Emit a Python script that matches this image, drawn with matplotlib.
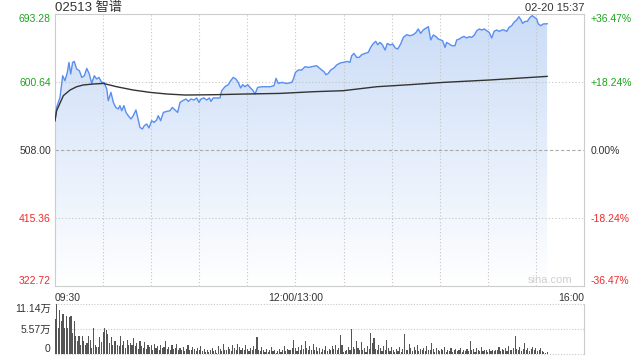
import numpy as np
import matplotlib
matplotlib.use("Agg")
import matplotlib.pyplot as plt
from matplotlib.colors import LinearSegmentedColormap

plt.rcParams['font.family'] = ['Liberation Sans', 'Noto Sans CJK SC', 'DejaVu Sans']

# minutes since 09:30 (lunch 12:00-13:00 removed), price in HKD
price_t = [0, 1, 3.1, 4.8, 6.2, 7.7, 8.7, 9.8, 11.0, 12.0,
           13.5, 15.2, 16.7, 18.3, 19.8, 21.4, 22.9, 24.5, 26.0, 27.4,
           29.1, 30.6, 32.3, 33.2, 34.9, 36.4, 37.9, 39.5, 40.5, 41.6,
           43.0, 44.3, 45.7, 47.4, 48.8, 50.5, 51.6, 53.0, 54.5, 55.7,
           57.2, 58.6, 60.3, 61.8, 63.4, 64.4, 65.9, 67.6, 69.7, 71.7,
           73.2, 74.9, 76.5, 78.0, 79.7, 81.7, 83.2, 84.8, 86.7, 88.4,
           89.8, 91.1, 92.9, 94.6, 96.3, 97.3, 98.7, 100.9, 102.9, 104.0,
           106.0, 108.1, 109.6, 111.2, 112.9, 114.3, 115.8, 117.1, 118.5, 120.2,
           121.6, 123.3, 124.8, 126.4, 128.9, 131.6, 134.1, 136.6, 137.9, 139.3,
           141.4, 144.5, 147.7, 148.7, 150, 151.8, 153.9, 156.0, 158.0, 160.1,
           163.2, 164.9, 166.4, 167.8, 169.0, 170.5, 172.0, 174.0, 175.7, 177.8,
           179.8, 182.3, 184.0, 185.1, 186.5, 188.2, 189.8, 191.3, 193.4, 195.4,
           196.9, 198.6, 200.1, 201.3, 202.7, 204.2, 205.9, 207.3, 209.0, 210.7,
           212.3, 213.8, 215.6, 217.3, 219.4, 221.4, 223.5, 225.2, 226.6, 228.1,
           229.7, 231.2, 232.9, 234.4, 236.0, 237.7, 239.1, 241.8, 243.3, 244.3,
           246.0, 247.5, 249.5, 250.6, 252.2, 253.7, 255.1, 256.8, 258.4, 259.9,
           261.6, 263.1, 264.7, 266.2, 267.8, 269.3, 270.9, 272.4, 273.9, 275.5,
           277.2, 278.7, 280.1, 281.8, 283.2, 284.9, 286.3, 288.0, 289.4, 290.7,
           291.7, 293.2, 294.6, 296.3, 297.7, 299.2, 300.5, 301.5, 303.0, 304.6,
           307]
price_v = [547.9, 566.0, 579.7, 609.2, 602.4, 613.7, 627.4, 611.5, 627.4, 628.7,
           618.4, 616.0, 606.9, 609.2, 619.2, 611.5, 598.7, 609.2, 604.7, 606.9,
           600.1, 600.1, 591.1, 575.2, 586.5, 572.9, 566.0, 563.9, 568.4, 561.5,
           568.4, 559.2, 554.7, 550.2, 554.7, 562.5, 552.4, 538.8, 536.6, 541.1,
           543.4, 538.0, 547.9, 545.6, 548.9, 554.7, 547.9, 559.2, 560.6, 561.5,
           566.0, 562.5, 559.2, 572.9, 575.2, 577.5, 574.2, 577.5, 576.1, 578.9,
           572.9, 577.5, 578.9, 576.1, 578.9, 574.2, 578.9, 578.9, 578.9, 588.8,
           594.2, 597.0, 602.4, 606.9, 604.7, 600.1, 592.5, 597.0, 594.2, 597.0,
           593.3, 589.7, 584.3, 593.3, 594.2, 594.2, 594.2, 595.6, 605.6, 598.7,
           600.1, 598.7, 600.1, 604.7, 613.7, 617.0, 617.0, 621.5, 620.5, 621.5,
           622.9, 619.7, 617.0, 614.7, 610.6, 612.4, 617.0, 619.7, 623.8, 626.5,
           627.4, 628.7, 627.4, 636.5, 639.6, 634.2, 634.2, 637.8, 639.6, 641.0,
           647.8, 653.2, 656.0, 651.5, 654.6, 651.5, 644.2, 653.2, 651.1, 652.4,
           647.0, 645.6, 652.4, 661.4, 665.1, 663.7, 665.1, 668.2, 672.9, 666.9,
           671.5, 673.7, 676.0, 657.9, 664.7, 662.4, 659.2, 656.9, 647.8, 654.6,
           652.4, 650.1, 650.1, 657.9, 659.2, 661.4, 662.8, 660.6, 662.4, 661.4,
           664.7, 670.5, 672.9, 671.5, 672.9, 670.5, 668.2, 660.6, 669.6, 671.5,
           669.6, 671.5, 671.5, 669.6, 675.0, 677.4, 681.9, 685.1, 689.6, 685.1,
           680.5, 683.2, 683.2, 688.7, 691.0, 688.7, 686.5, 679.7, 677.4, 679.7,
           680.0]

avg_t = [0, 1, 5.2, 9.4, 13.5, 17.7, 23.9, 30.1, 38.5, 48.8, 59.3, 69.7,
         81.1, 98.6, 119.6, 140.4, 161, 179.8, 200.7, 221.5, 242.2, 271.4, 307]
avg_v = [547.9, 561.5, 582.0, 589.7, 594.2, 596.6, 597.9, 598.7, 594.2, 589.7, 586.5, 584.3,
         582.9, 583.3, 584.3, 585.1, 587.4, 588.8, 594.2, 597.0, 600.1, 603.4, 608.3]

# volume per minute, in 万 shares
volume = [7.9, 11.1, 5.8, 9.7, 7.3, 8.9, 5.8, 8.4, 5.8, 8.2,
          8.4, 4.7, 7.3, 3.9, 3.0, 3.9, 2.1, 3.9, 3.0, 2.1,
          2.5, 3.9, 3.2, 1.3, 5.8, 2.1, 1.5, 1.5, 3.7, 2.7,
          5.0, 5.8, 5.4, 4.5, 2.5, 3.7, 2.1, 2.8, 2.8, 2.1,
          1.7, 3.9, 2.1, 2.8, 1.3, 3.2, 2.1, 2.5, 2.1, 3.6,
          1.7, 2.4, 1.2, 2.9, 1.8, 1.4, 2.6, 1.1, 2.0, 1.5,
          1.9, 1.0, 2.3, 1.4, 1.7, 0.9, 2.1, 1.3, 1.6, 2.8,
          1.2, 1.5, 0.8, 1.9, 1.1, 1.4, 2.2, 0.9, 1.3, 1.0,
          1.6, 0.7, 1.2, 2.0, 1.0, 0.8, 1.5, 1.1, 0.6, 1.3,
          0.9, 1.8, 0.7, 1.2, 0.5, 1.0, 0.4, 0.8, 1.4, 0.6,
          0.9, 0.3, 1.7, 1.1, 0.6, 2.2, 1.0, 0.8, 1.5, 1.2,
          0.7, 1.9, 1.3, 0.9, 2.3, 1.6, 1.0, 1.4, 0.8, 2.1,
          1.1, 0.6, 1.3, 0.9, 1.7, 1.2, 3.7, 1.0, 0.7, 1.5,
          0.9, 0.5, 1.2, 0.4, 0.8, 1.6, 0.6, 1.0, 0.3, 0.7,
          1.1, 0.5, 0.9, 1.8, 0.6, 1.2, 0.8, 1.0, 1.4, 3.1,
          1.3, 0.7, 1.6, 0.9, 2.0, 1.2, 2.9, 1.4, 0.8, 1.7,
          1.0, 2.2, 0.9, 1.5, 0.7, 1.3, 0.5, 1.1, 0.8, 1.8,
          0.6, 1.2, 0.9, 1.7, 1.1, 2.0, 0.8, 1.3, 4.2, 1.9,
          0.4, 0.7, 1.0, 1.6, 0.8, 5.6, 1.5, 1.2, 2.9, 1.4,
          1.0, 2.6, 0.8, 1.3, 0.5, 1.7, 1.1, 4.6, 2.4, 3.6,
          1.2, 0.9, 2.0, 1.4, 0.7, 1.8, 1.0, 3.1, 1.3, 0.6,
          1.5, 0.9, 0.4, 1.1, 0.7, 1.6, 0.5, 1.2, 4.4, 1.0,
          0.8, 2.3, 1.3, 0.6, 1.5, 1.0, 1.9, 0.7, 1.2, 0.9,
          1.4, 0.6, 1.7, 1.0, 0.8, 2.4, 1.1, 0.5, 1.3, 0.9,
          0.6, 1.2, 0.8, 1.5, 0.5, 1.0, 0.7, 1.3, 0.4, 0.9,
          1.1, 0.6, 0.8, 1.4, 0.5, 0.9, 0.7, 1.2, 0.6, 2.9,
          0.8, 1.1, 0.5, 1.3, 0.9, 0.7, 1.5, 0.6, 1.0, 0.8,
          0.5, 1.2, 0.7, 0.9, 0.6, 1.0, 0.8, 1.6, 0.7, 1.1,
          0.9, 1.4, 0.6, 1.8, 1.0, 0.8, 1.3, 4.0, 1.1, 0.9,
          1.6, 0.7, 1.2, 2.5, 0.8, 1.4, 0.6, 1.1, 1.5, 0.9,
          1.3, 0.7, 1.0, 1.4, 0.6, 0.5, 0.3, 0.4]

prev_close = 508.00
price_levels = [322.72, 415.36, 508.00, 600.64, 693.28]
price_labels = ['322.72', '415.36', '508.00', '600.64', '693.28']
pct_labels = ['-36.47%', '-18.24%', '0.00%', '+18.24%', '+36.47%']
vol_levels = [0, 5.57, 11.14]
vol_labels = ['0', '5.57万', '11.14万']
x_ticks = [0, 150, 330]
x_labels = ['09:30', '12:00/13:00', '16:00']

green = '#1da31d'
red = '#ee2a2a'
dark = '#333333'
label_colors = [red, red, dark, green, green]

fig = plt.figure(figsize=(6.4, 3.6), dpi=100)
ax = fig.add_axes([55/640, 1-286/360, 529/640, 272/360])
axv = fig.add_axes([55/640, 1-354/360, 529/640, 50/360])

# gradient fill under the price line
ymin, ymax = price_levels[0], price_levels[-1]
poly = ax.fill_between(price_t, price_v, ymin, facecolor='none', edgecolor='none')
cmap = LinearSegmentedColormap.from_list('fade', ['#ffffff', '#cadcf7'])
grad = np.linspace(0, 1, 256).reshape(-1, 1)
im = ax.imshow(grad, extent=[0, 330, ymin, ymax], origin='lower', aspect='auto',
               cmap=cmap, zorder=1)
im.set_clip_path(poly.get_paths()[0], transform=ax.transData)

# grid, drawn over the fill
for m in range(30, 330, 30):
    ax.axvline(m, color='#c4c4c4', lw=0.8, ls=(0, (1, 2)), zorder=2)
for lv in price_levels[1:-1]:
    if lv == prev_close:
        ax.axhline(lv, color='#aaaaaa', lw=0.8, ls=(0, (3, 2)), zorder=2)
    else:
        ax.axhline(lv, color='#c4c4c4', lw=0.8, ls=(0, (1, 2)), zorder=2)

ax.plot(price_t, price_v, color='#5a8ef0', lw=1, zorder=3)
ax.plot(avg_t, avg_v, color='#333333', lw=1, zorder=3)

ax.set_xlim(0, 330)
ax.set_ylim(ymin, ymax)
for s in ax.spines.values():
    s.set_color('#cccccc')
ax.set_yticks(price_levels)
ax.set_yticklabels(price_labels, fontsize=7.5)
for lab, c in zip(ax.get_yticklabels(), label_colors):
    lab.set_color(c)
ax.get_yticklabels()[0].set_va('bottom')
ax.get_yticklabels()[-1].set_va('top')
ax.set_xticks(x_ticks)
ax.set_xticklabels(x_labels, fontsize=7.5, color=dark)
ax.get_xticklabels()[0].set_ha('left')
ax.get_xticklabels()[-1].set_ha('right')
ax.tick_params(length=0, pad=3)
ax.tick_params(axis='x', pad=5)

ax2 = ax.twinx()
ax2.set_ylim(ymin, ymax)
ax2.set_yticks(price_levels)
ax2.set_yticklabels(pct_labels, fontsize=7.5)
for lab, c in zip(ax2.get_yticklabels(), label_colors):
    lab.set_color(c)
ax2.get_yticklabels()[0].set_va('bottom')
ax2.get_yticklabels()[-1].set_va('top')
ax2.tick_params(length=0, pad=5)
for s in ax2.spines.values():
    s.set_visible(False)

ax.text(0.978, 0.005, 'sina.com', transform=ax.transAxes, ha='right', va='bottom',
        fontsize=8, color='#cfcfcf')

fig.text(55/640, 1-8/360, '02513 智谱', fontsize=9.5, color=dark, va='center', ha='left')
fig.text(584/640, 1-8/360, '02-20 15:37', fontsize=8, color=dark, va='center', ha='right')

# volume panel
axv.bar(range(len(volume)), volume, width=0.7, color='#555555', zorder=2)
axv.set_xlim(0, 330)
axv.set_ylim(0, vol_levels[-1])
for lv in vol_levels:
    axv.axhline(lv, color='#c8c8c8', lw=0.8, ls=(0, (1, 1.5)), zorder=0.5, clip_on=False)
for name, s in axv.spines.items():
    s.set_visible(name == 'right')
    s.set_color('#cccccc')
axv.set_xticks([])
axv.set_yticks(vol_levels)
axv.set_yticklabels(vol_labels, fontsize=7.5, color=dark)
axv.get_yticklabels()[0].set_va('bottom')
axv.get_yticklabels()[-1].set_va('top')
axv.tick_params(length=0, pad=3)

fig.savefig('out.png', dpi=100)
